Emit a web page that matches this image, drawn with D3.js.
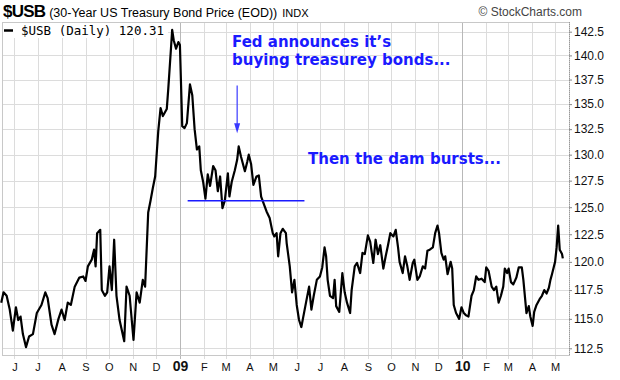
<!DOCTYPE html>
<html>
<head>
<meta charset="utf-8">
<script src="https://cdn.jsdelivr.net/npm/d3@7"></script>
<style>
  body { margin: 0; background: #fff; }
</style>
</head>
<body>
<div id="chart"></div>
<script>

// $USB daily close
const dates = [
  "2008-05-15","2008-05-18","2008-05-22","2008-05-26","2008-05-30","2008-06-03","2008-06-06","2008-06-09",
  "2008-06-12","2008-06-16","2008-06-20","2008-06-25","2008-06-30","2008-07-06","2008-07-11","2008-07-14",
  "2008-07-19","2008-07-23","2008-07-28","2008-08-01","2008-08-05","2008-08-09","2008-08-13","2008-08-18",
  "2008-08-24","2008-08-29","2008-09-01","2008-09-04","2008-09-09","2008-09-12","2008-09-14","2008-09-16",
  "2008-09-20","2008-09-22","2008-09-26","2008-09-29","2008-10-02","2008-10-05","2008-10-08","2008-10-11",
  "2008-10-15","2008-10-21","2008-10-24","2008-10-28","2008-11-02","2008-11-06","2008-11-10","2008-11-14",
  "2008-11-17","2008-11-21","2008-11-24","2008-11-27","2008-11-30","2008-12-02","2008-12-04","2008-12-07",
  "2008-12-10","2008-12-15","2008-12-17","2008-12-20","2008-12-22","2008-12-24","2008-12-27","2008-12-30",
  "2009-01-01","2009-01-04","2009-01-07","2009-01-10","2009-01-14","2009-01-17","2009-01-20","2009-01-23",
  "2009-01-26","2009-01-28","2009-01-31","2009-02-03","2009-02-06","2009-02-09","2009-02-13","2009-02-16",
  "2009-02-19","2009-02-22","2009-02-25","2009-02-28","2009-03-04","2009-03-06","2009-03-09","2009-03-13",
  "2009-03-16","2009-03-18","2009-03-21","2009-03-26","2009-03-29","2009-03-31","2009-04-03","2009-04-06",
  "2009-04-10","2009-04-13","2009-04-16","2009-04-20","2009-04-23","2009-04-27","2009-05-01","2009-05-03",
  "2009-05-06","2009-05-08","2009-05-11","2009-05-14","2009-05-18","2009-05-19","2009-05-23","2009-05-26",
  "2009-05-29","2009-06-01","2009-06-04","2009-06-07","2009-06-09","2009-06-13","2009-06-17","2009-06-20",
  "2009-06-23","2009-06-27","2009-07-01","2009-07-04","2009-07-07","2009-07-09","2009-07-11","2009-07-14",
  "2009-07-18","2009-07-20","2009-07-22","2009-07-26","2009-07-30","2009-08-02","2009-08-05","2009-08-09",
  "2009-08-11","2009-08-15","2009-08-18","2009-08-22","2009-08-25","2009-08-28","2009-09-01","2009-09-04",
  "2009-09-08","2009-09-11","2009-09-14","2009-09-17","2009-09-21","2009-09-24","2009-09-27","2009-09-30",
  "2009-10-04","2009-10-07","2009-10-10","2009-10-12","2009-10-16","2009-10-19","2009-10-22","2009-10-25",
  "2009-10-29","2009-10-31","2009-11-04","2009-11-07","2009-11-11","2009-11-14","2009-11-17","2009-11-20",
  "2009-11-24","2009-11-27","2009-11-30","2009-12-02","2009-12-05","2009-12-08","2009-12-10","2009-12-13",
  "2009-12-17","2009-12-19","2009-12-21","2009-12-24","2009-12-28","2009-12-31","2010-01-03","2010-01-06",
  "2010-01-09","2010-01-13","2010-01-16","2010-01-19","2010-01-22","2010-01-26","2010-01-30","2010-02-01",
  "2010-02-04","2010-02-08","2010-02-11","2010-02-14","2010-02-17","2010-02-20","2010-02-23","2010-02-25",
  "2010-02-28","2010-03-02","2010-03-05","2010-03-08","2010-03-12","2010-03-15","2010-03-19","2010-03-21",
  "2010-03-25","2010-03-28","2010-03-30","2010-04-02","2010-04-04","2010-04-07","2010-04-11","2010-04-14",
  "2010-04-17","2010-04-20","2010-04-23","2010-04-25","2010-04-27","2010-05-01","2010-05-03","2010-05-05",
  "2010-05-07","2010-05-10","2010-05-11"
];
const prices = [
  116.4,117.3,117.0,115.8,114.0,116.0,114.9,115.2,
  113.7,112.6,113.5,113.7,115.5,116.2,117.3,116.8,
  114.5,113.7,115.0,115.8,114.9,116.4,116.2,117.8,
  118.6,118.7,118.3,119.6,120.2,121.1,119.6,122.6,
  122.9,117.5,117.0,117.3,119.6,117.5,122.0,117.0,
  114.9,113.1,117.8,117.0,113.2,117.3,116.4,118.4,
  117.8,124.5,125.6,126.8,127.9,130.1,132.3,134.6,
  133.8,134.5,136.6,140.2,142.7,141.6,140.7,141.4,
  141.1,132.8,132.6,133.1,137.0,135.9,132.5,130.5,
  130.8,128.5,127.4,125.8,128.1,127.0,128.9,128.5,
  126.5,127.9,124.9,125.6,128.2,126.0,127.4,128.5,
  129.5,130.8,129.8,128.4,129.3,130.0,129.1,127.1,
  127.9,128.0,126.0,125.2,124.6,124.0,122.6,122.3,
  122.6,120.5,122.6,123.0,122.6,121.7,119.6,117.3,
  118.4,116.2,114.9,114.3,115.0,116.4,117.8,115.8,
  117.0,118.4,118.7,119.5,121.3,120.5,118.4,117.0,
  116.8,118.4,116.1,115.6,119.0,117.3,116.4,115.5,
  117.5,119.6,119.9,119.0,120.8,120.7,122.4,121.8,
  119.9,122.0,120.7,121.5,119.4,120.5,121.5,122.6,
  122.3,122.9,121.3,120.0,119.0,120.5,119.6,118.4,
  119.9,120.2,118.4,118.7,119.6,119.4,121.0,121.1,
  121.3,122.6,123.3,122.6,120.8,120.2,120.5,118.9,
  120.0,119.4,116.2,115.5,115.0,116.0,115.5,115.3,
  115.2,117.0,117.5,118.7,118.4,118.5,118.2,119.5,
  119.2,117.8,117.5,117.8,116.4,117.0,117.8,119.4,
  119.0,119.4,118.2,118.0,118.6,119.5,119.5,118.4,
  115.5,116.1,115.2,114.4,115.6,116.2,116.7,117.0,
  117.5,117.2,117.7,118.4,118.9,120.0,121.3,123.3,
  121.1,120.7,120.31
];

const yTicks = [112.5, 115.0, 117.5, 120.0, 122.5, 125.0, 127.5, 130.0, 132.5, 135.0, 137.5, 140.0, 142.5];
const monthTicks = [
  "2008-06-01","2008-07-01","2008-08-01","2008-09-01","2008-10-01","2008-11-01","2008-12-01",
  "2009-01-01","2009-02-01","2009-03-01","2009-04-01","2009-05-01","2009-06-01","2009-07-01",
  "2009-08-01","2009-09-01","2009-10-01","2009-11-01","2009-12-01","2010-01-01","2010-02-01",
  "2010-03-01","2010-04-01","2010-05-01"
];
const monthLabels = ["J","J","A","S","O","N","D","09","F","M","A","M","J","J","A","S","O","N","D","10","F","M","A","M"];

// annotation: support level and the Fed arrow
const supportLevel = 125.6;
const supportRange = ["2009-01-11", "2009-06-11"];
const arrowDate = "2009-03-16";
const arrowFrom = 136.9, arrowTo = 132.1;

const parse = d3.timeParse("%Y-%m-%d");
const data = dates.map((d, i) => ({ date: parse(d), value: prices[i] }));

const width = 620, height = 380;
const plot = { left: 2, right: 569, top: 22, bottom: 355 };
const sans = "Liberation Sans, Arial, sans-serif";

const svg = d3.select("#chart").append("svg")
  .attr("width", width)
  .attr("height", height);

const x = d3.scaleTime()
  .domain([parse("2008-05-16"), parse("2010-05-19")])
  .range([plot.left, plot.right]);

const y = d3.scaleLog()
  .domain([112.5, 142.5])
  .range([348.3, 31.7]);

const isYear = i => /^\d/.test(monthLabels[i]);

// grid
const grid = svg.append("g");
grid.selectAll(".hg")
  .data(yTicks)
  .enter().append("line")
  .attr("x1", plot.left).attr("x2", plot.right)
  .attr("y1", d => Math.round(y(d)) + 0.5)
  .attr("y2", d => Math.round(y(d)) + 0.5)
  .attr("stroke", "#dcdcdc");

grid.selectAll(".vg")
  .data(monthTicks)
  .enter().append("line")
  .attr("x1", d => Math.round(x(parse(d))) + 0.5)
  .attr("x2", d => Math.round(x(parse(d))) + 0.5)
  .attr("y1", plot.top).attr("y2", plot.bottom + 4)
  .attr("stroke", (d, i) => isYear(i) ? "#b8b8b8" : "#dcdcdc");

// frame
svg.append("rect")
  .attr("x", plot.left + 0.5).attr("y", plot.top + 0.5)
  .attr("width", plot.right - plot.left).attr("height", plot.bottom - plot.top)
  .attr("fill", "none")
  .attr("stroke", "#c8c8c8");

svg.append("line")
  .attr("x1", plot.right + 0.5).attr("x2", plot.right + 0.5)
  .attr("y1", plot.top).attr("y2", plot.bottom)
  .attr("stroke", "#999")
  .attr("stroke-dasharray", "1,1");

// y axis on the right
const yAxis = d3.axisRight(y)
  .tickValues(yTicks)
  .tickFormat(d3.format(".1f"))
  .tickSize(3)
  .tickPadding(2);

const ya = svg.append("g")
  .attr("transform", `translate(${plot.right},0)`)
  .call(yAxis);
ya.select(".domain").remove();
ya.selectAll("line").attr("stroke", "#888");
ya.selectAll("text")
  .attr("fill", "#111")
  .style("font-size", "12px")
  .style("font-family", sans);

// x labels
const xAxis = d3.axisBottom(x)
  .tickValues(monthTicks.map(parse))
  .tickFormat((d, i) => monthLabels[i])
  .tickSize(0)
  .tickPadding(8);

const xa = svg.append("g")
  .attr("transform", `translate(0,${plot.bottom})`)
  .call(xAxis);
xa.select(".domain").remove();
xa.selectAll("text")
  .attr("fill", "#111")
  .style("font-family", sans)
  .style("font-size", (d, i) => isYear(i) ? "14px" : "11px")
  .style("font-weight", (d, i) => isYear(i) ? "bold" : "normal")
  .attr("dy", (d, i) => isYear(i) ? "0.6em" : "0.71em");

// price line
const line = d3.line()
  .x(d => x(d.date))
  .y(d => y(d.value));

svg.append("path")
  .datum(data)
  .attr("fill", "none")
  .attr("stroke", "#000")
  .attr("stroke-width", 2.2)
  .attr("stroke-linejoin", "round")
  .attr("d", line);

// support line
svg.append("line")
  .attr("x1", x(parse(supportRange[0])))
  .attr("x2", x(parse(supportRange[1])))
  .attr("y1", y(supportLevel))
  .attr("y2", y(supportLevel))
  .attr("stroke", "#1a1aff")
  .attr("stroke-width", 1.5);

// arrow
const ax = x(parse(arrowDate));
svg.append("line")
  .attr("x1", ax).attr("x2", ax)
  .attr("y1", y(arrowFrom)).attr("y2", y(arrowTo) - 6)
  .attr("stroke", "#3a3aff")
  .attr("stroke-width", 1.2);
svg.append("path")
  .attr("d", `M${ax - 3},${y(arrowTo) - 10} L${ax + 3},${y(arrowTo) - 10} L${ax},${y(arrowTo)} Z`)
  .attr("fill", "#3a3aff");

// annotation text
function note(tx, ty, str) {
  svg.append("text")
    .attr("x", tx).attr("y", ty)
    .style("font-family", "DejaVu Sans, Verdana, sans-serif")
    .style("font-weight", "bold")
    .style("font-size", "15px")
    .attr("fill", "#1a1aff")
    .text(str);
}
note(232, 47, "Fed announces it\u2019s");
note(232, 65, "buying treasurey bonds...");
note(308, 164, "Then the dam bursts...");

// legend
svg.append("rect")
  .attr("x", plot.left + 1).attr("y", plot.top + 1)
  .attr("width", 165).attr("height", 15)
  .attr("fill", "#fff");
svg.append("line")
  .attr("x1", 4).attr("x2", 13)
  .attr("y1", 30.5).attr("y2", 30.5)
  .attr("stroke", "#000")
  .attr("stroke-width", 2.5);
svg.append("text")
  .attr("x", 21).attr("y", 35)
  .style("font-family", "DejaVu Sans Mono, monospace")
  .style("font-size", "12.5px")
  .attr("fill", "#000")
  .text("$USB (Daily) " + prices[prices.length - 1].toFixed(2));

// title
const title = svg.append("text").attr("x", 3).attr("y", 17).style("font-family", sans);
title.append("tspan")
  .style("font-weight", "bold")
  .style("font-size", "17px")
  .attr("letter-spacing", "-0.8")
  .text("$USB");
title.append("tspan")
  .attr("dx", 4)
  .style("font-size", "12.5px")
  .text("(30-Year US Treasury Bond Price (EOD))");
title.append("tspan")
  .attr("dx", 5)
  .style("font-size", "11px")
  .text("INDX");

svg.append("text")
  .attr("x", 582).attr("y", 16)
  .attr("text-anchor", "end")
  .style("font-family", sans)
  .style("font-size", "12px")
  .attr("fill", "#444")
  .text("\u00a9 StockCharts.com");

</script>
</body>
</html>
